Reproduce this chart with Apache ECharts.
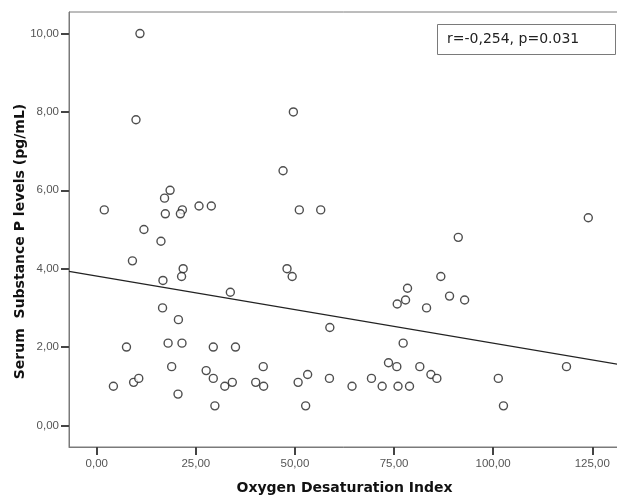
<!DOCTYPE html>
<html>
<head>
<meta charset="utf-8">
<title>Substance P vs Oxygen Desaturation Index</title>
<script src="https://cdn.jsdelivr.net/npm/echarts@6/dist/echarts.min.js"></script>
<style>
    html, body { margin: 0; padding: 0; background: #fff; }
    #scatter-chart { width: 617px; height: 495px; }
</style>
</head>
<body>
<div id="scatter-chart"></div>
<script>
// values
var oxygenIndex = [10.9, 9.9, 49.6, 47.0, 51.1, 1.9, 18.5, 17.1, 17.3, 21.6, 21.1, 25.8, 28.9, 11.9, 16.2,
    56.5, 124.0, 91.2, 9.0, 21.8, 21.4, 16.7, 48.0, 49.3, 33.7, 16.6, 20.6, 7.5, 18.0, 21.5, 29.4, 35.0,
    18.9, 27.6, 29.4, 42.0, 4.2, 9.3, 10.6, 32.3, 34.2, 40.1, 42.1, 50.8, 53.2, 20.5, 29.8, 52.7,
    58.8, 58.7, 64.4, 69.3, 72.0, 73.6, 75.7, 76.0, 78.9, 77.3, 75.8, 77.9, 78.4, 83.2, 86.8, 89.0,
    92.8, 81.5, 84.3, 85.8, 101.3, 102.6, 118.5];
var substanceP = [10.0, 7.8, 8.0, 6.5, 5.5, 5.5, 6.0, 5.8, 5.4, 5.5, 5.4, 5.6, 5.6, 5.0, 4.7,
    5.5, 5.3, 4.8, 4.2, 4.0, 3.8, 3.7, 4.0, 3.8, 3.4, 3.0, 2.7, 2.0, 2.1, 2.1, 2.0, 2.0,
    1.5, 1.4, 1.2, 1.5, 1.0, 1.1, 1.2, 1.0, 1.1, 1.1, 1.0, 1.1, 1.3, 0.8, 0.5, 0.5,
    2.5, 1.2, 1.0, 1.2, 1.0, 1.6, 1.5, 1.0, 1.0, 2.1, 3.1, 3.2, 3.5, 3.0, 3.8, 3.3,
    3.2, 1.5, 1.3, 1.2, 1.2, 0.5, 1.5];

var xTicks = [0, 25, 50, 75, 100, 125];
var yTicks = [0, 2, 4, 6, 8, 10];

// linear fit line
var fitIntercept = 3.81;
var fitSlope = -0.0171;
var annotation = 'r=-0,254, p=0.031';

var xMin = -7, xMax = 132;
var yMin = -0.55, yMax = 10.55;

function fmt(v) {
    return v.toFixed(2).replace('.', ',');
}

function scatterChart() {
    var chart = echarts.init(document.getElementById('scatter-chart'));

    var points = oxygenIndex.map(function (x, i) { return [x, substanceP[i]]; });
    var fitLine = [
        [xMin, fitIntercept + fitSlope * xMin],
        [xMax, fitIntercept + fitSlope * xMax]
    ];

    var option = {
        animation: false,
        backgroundColor: '#fff',
        grid: {
            left: 69, right: -3, top: 12, bottom: 48,
            outerBoundsMode: 'none',
            containLabel: false,
            show: true,
            borderColor: '#7a7a7a',
            borderWidth: 1
        },
        xAxis: {
            type: 'value',
            min: xMin,
            max: xMax,
            name: 'Oxygen Desaturation Index',
            nameLocation: 'middle',
            nameGap: 34,
            nameTextStyle: { fontFamily: 'DejaVu Sans', fontWeight: 'bold', fontSize: 14, color: '#111' },
            splitLine: { show: false },
            axisLine: { onZero: false, lineStyle: { color: '#7a7a7a', width: 1 } },
            axisTick: { customValues: xTicks, length: 8, lineStyle: { color: '#444', width: 2 } },
            axisLabel: {
                customValues: xTicks,
                formatter: fmt,
                margin: 11,
                fontFamily: 'Liberation Sans',
                fontSize: 11.5,
                color: '#555'
            }
        },
        yAxis: {
            type: 'value',
            min: yMin,
            max: yMax,
            name: 'Serum  Substance P levels (pg/mL)',
            nameLocation: 'middle',
            nameGap: 42,
            nameMoveOverlap: false,
            nameTextStyle: {
                fontFamily: 'DejaVu Sans', fontWeight: 'bold', fontSize: 14, color: '#111',
                padding: [0, 24, 0, 0]
            },
            splitLine: { show: false },
            axisLine: { show: true, onZero: false, lineStyle: { color: '#7a7a7a', width: 1 } },
            axisTick: { show: true, customValues: yTicks, length: 8, lineStyle: { color: '#444', width: 2 } },
            axisLabel: {
                customValues: yTicks,
                formatter: fmt,
                margin: 10,
                fontFamily: 'Liberation Sans',
                fontSize: 11.5,
                color: '#555'
            }
        },
        series: [
            {
                type: 'scatter',
                data: points,
                symbol: 'circle',
                symbolSize: 8,
                itemStyle: { color: '#fff', borderColor: '#222', borderWidth: 1.4 },
                z: 3
            },
            {
                type: 'line',
                data: fitLine,
                symbol: 'none',
                lineStyle: { color: '#222', width: 1.3 },
                z: 2
            }
        ],
        graphic: [
            {
                type: 'rect',
                left: 437,
                top: 24,
                shape: { width: 178, height: 30 },
                style: { fill: '#fff', stroke: '#7a7a7a', lineWidth: 1 }
            },
            {
                type: 'text',
                left: 447,
                top: 32,
                style: { text: annotation, font: '14px "DejaVu Sans"', fill: '#222' }
            }
        ]
    };

    chart.setOption(option);
}

scatterChart();
</script>
</body>
</html>
